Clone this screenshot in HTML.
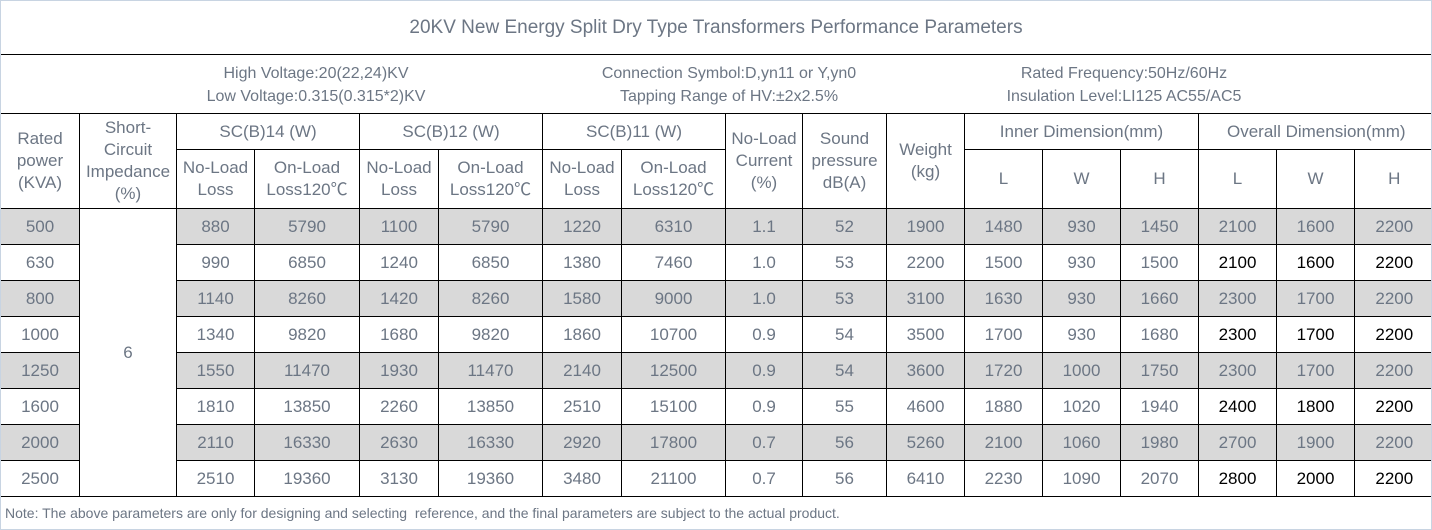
<!DOCTYPE html>
<html><head><meta charset="utf-8"><style>
body{margin:0;background:#fff;}
#wrap{position:relative;width:1430px;height:528px;border:1px solid #c8d4e2;overflow:hidden;font-family:"Liberation Sans",Arial,"Noto Sans CJK SC",sans-serif;color:#6c7684;}
table{border-collapse:collapse;table-layout:fixed;width:1431px;position:absolute;left:-1px;top:112px;}
td{border:1px solid #000;text-align:center;padding:0;font-size:17px;line-height:22px;}
.title{height:53px;border-bottom:1px solid #000;text-align:center;font-size:19px;line-height:53px;}
.info{position:absolute;top:0;height:59px;font-size:16px;line-height:23px;text-align:center;}
tr.d td{height:35px;}
tr.g td.c{background:#d9d9d9;}
.b{color:#000;}
.note{position:absolute;left:4px;top:504px;font-size:14px;}
</style></head><body>
<div id="wrap">
<div class="title">20KV New Energy Split Dry Type Transformers Performance Parameters</div>
<div style="position:relative;height:59px">
<div class="info" style="left:150px;width:330px;top:7px">High Voltage:20(22,24)KV<br>Low Voltage:0.315(0.315*2)KV</div>
<div class="info" style="left:560px;width:336px;top:7px">Connection Symbol:D,yn11 or Y,yn0<br>Tapping Range of HV:±2x2.5%</div>
<div class="info" style="left:960px;width:326px;top:7px">Rated Frequency:50Hz/60Hz<br>Insulation Level:LI125 AC55/AC5</div>
</div>
<table id="t">
<colgroup><col style="width:79px"><col style="width:97px"><col style="width:78px"><col style="width:105px"><col style="width:79px"><col style="width:104px"><col style="width:79px"><col style="width:104px"><col style="width:77px"><col style="width:84px"><col style="width:78px"><col style="width:78px"><col style="width:78px"><col style="width:78px"><col style="width:78px"><col style="width:78px"><col style="width:79px"></colgroup>
<tr style="height:36px">
<td rowspan="2">Rated<br>power<br>(KVA)</td>
<td rowspan="2">Short-<br>Circuit<br>Impedance<br>(%)</td>
<td colspan="2">SC(B)14 (W)</td>
<td colspan="2">SC(B)12 (W)</td>
<td colspan="2">SC(B)11 (W)</td>
<td rowspan="2">No-Load<br>Current<br>(%)</td>
<td rowspan="2">Sound<br>pressure<br>dB(A)</td>
<td rowspan="2">Weight<br>(kg)</td>
<td colspan="3">Inner Dimension(mm)</td>
<td colspan="3" style="border-right:none">Overall Dimension(mm)</td>
</tr>
<tr style="height:59px">
<td>No-Load<br>Loss</td><td>On-Load<br>Loss120℃</td>
<td>No-Load<br>Loss</td><td>On-Load<br>Loss120℃</td>
<td>No-Load<br>Loss</td><td>On-Load<br>Loss120℃</td>
<td>L</td><td>W</td><td>H</td>
<td>L</td><td>W</td><td style="border-right:none">H</td>
</tr>
</table>
<div class="note">Note: The above parameters are only for designing and selecting&nbsp; reference, and the final parameters are subject to the actual product.</div>
</div>
<script>
const rows=[
["500","880","5790","1100","5790","1220","6310","1.1","52","1900","1480","930","1450","2100","1600","2200"],
["630","990","6850","1240","6850","1380","7460","1.0","53","2200","1500","930","1500","2100","1600","2200"],
["800","1140","8260","1420","8260","1580","9000","1.0","53","3100","1630","930","1660","2300","1700","2200"],
["1000","1340","9820","1680","9820","1860","10700","0.9","54","3500","1700","930","1680","2300","1700","2200"],
["1250","1550","11470","1930","11470","2140","12500","0.9","54","3600","1720","1000","1750","2300","1700","2200"],
["1600","1810","13850","2260","13850","2510","15100","0.9","55","4600","1880","1020","1940","2400","1800","2200"],
["2000","2110","16330","2630","16330","2920","17800","0.7","56","5260","2100","1060","1980","2700","1900","2200"],
["2500","2510","19360","3130","19360","3480","21100","0.7","56","6410","2230","1090","2070","2800","2000","2200"]];
const t=document.getElementById('t');
rows.forEach((r,i)=>{
 const tr=document.createElement('tr');
 tr.className='d'+(i%2===0?' g':'');
 
 
 r.forEach((v,j)=>{
  const td=document.createElement('td');
  td.className='c';
  if(j>=13&&i%2===1) td.classList.add('b');
  if(j===15) td.style.borderRight='none';
  td.textContent=v;
  
  
  tr.appendChild(td);
  if(j===0&&i===0){
   const s=document.createElement('td');
   s.rowSpan=8;s.textContent='6';
   
   
   tr.appendChild(s);
  }
 });
 t.appendChild(tr);
});
</script>
</body></html>
